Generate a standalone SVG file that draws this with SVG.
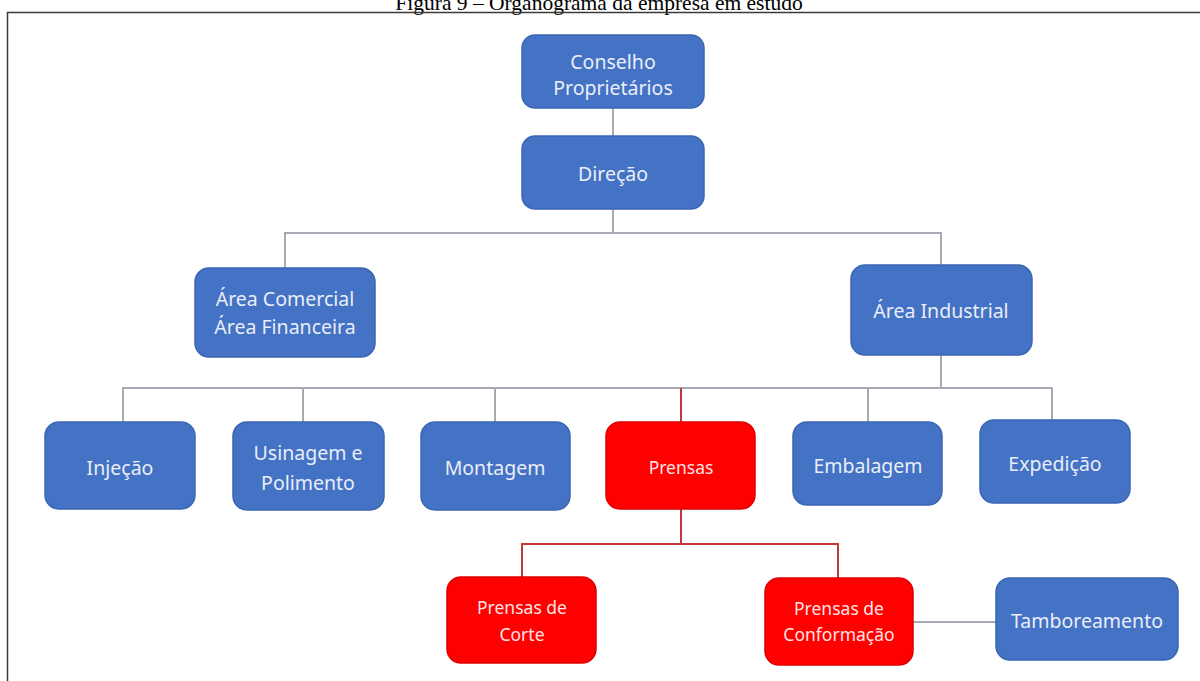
<svg xmlns="http://www.w3.org/2000/svg" width="1200" height="681" viewBox="0 0 1200 681">
  <style>
    .title { font-family: "Liberation Serif", "Times New Roman", serif; font-size: 21.5px; fill: #000; }
    .box-blue { fill: #4472c4; stroke: #3b66b4; stroke-width: 1.5; }
    .box-red { fill: #ff0000; stroke: #e00000; stroke-width: 1.5; }
    .lbl { font-family: "Noto Sans", "Open Sans", sans-serif; font-size: 19.5px; fill: #e9eef8; text-anchor: middle; dominant-baseline: central; }
    .lbl-sm { font-family: "Noto Sans", "Open Sans", sans-serif; font-size: 17.5px; fill: #fde4e4; text-anchor: middle; dominant-baseline: central; }
    .link { fill: none; stroke: #a6abb3; stroke-width: 2; }
    .link-red { fill: none; stroke: #c0393b; stroke-width: 2; }
    .frame { fill: none; stroke: #3a3a3a; stroke-width: 1.5; }
  </style>

  <rect x="0" y="0" width="1200" height="681" fill="#ffffff"/>

  <!-- caption, partly cut at the top edge -->
  <text class="title" x="599" y="10" text-anchor="middle">Figura 9 – Organograma da empresa em estudo</text>

  <!-- frame around the chart -->
  <path class="frame" d="M7.5,681 V12.5 H1200"/>

  <!-- connectors -->
  <g id="connectors">
    <path class="link" d="M613,108 V136"/>
    <path class="link" d="M613,209 V233"/>
    <path class="link" d="M285,268 V233 H941 V265"/>
    <path class="link" d="M941,355 V388"/>
    <path class="link" d="M123,422 V388 H1052 V420"/>
    <path class="link" d="M303,388 V422"/>
    <path class="link" d="M495,388 V422"/>
    <path class="link" d="M868,388 V422"/>
    <path class="link-red" d="M681,388 V422"/>
    <path class="link-red" d="M681,509 V544"/>
    <path class="link-red" d="M522,577 V544 H838 V578"/>
    <path class="link" d="M913,622 H996"/>
  </g>

  <g id="conselho">
    <rect class="box-blue" x="522" y="35" width="182" height="73" rx="13"/>
    <text class="lbl" x="613" y="61">Conselho</text>
    <text class="lbl" x="613" y="87">Proprietários</text>
  </g>

  <g id="direcao">
    <rect class="box-blue" x="522" y="136" width="182" height="73" rx="13"/>
    <text class="lbl" x="613" y="173">Direção</text>
  </g>

  <g id="area-comercial">
    <rect class="box-blue" x="195" y="268" width="180" height="89" rx="14"/>
    <text class="lbl" x="285" y="298">Área Comercial</text>
    <text class="lbl" x="285" y="326">Área Financeira</text>
  </g>

  <g id="area-industrial">
    <rect class="box-blue" x="851" y="265" width="181" height="90" rx="14"/>
    <text class="lbl" x="941" y="310">Área Industrial</text>
  </g>

  <g id="injecao">
    <rect class="box-blue" x="45" y="422" width="150" height="87" rx="14"/>
    <text class="lbl" x="120" y="467">Injeção</text>
  </g>

  <g id="usinagem">
    <rect class="box-blue" x="233" y="422" width="151" height="88" rx="14"/>
    <text class="lbl" x="308" y="452">Usinagem e</text>
    <text class="lbl" x="308" y="482">Polimento</text>
  </g>

  <g id="montagem">
    <rect class="box-blue" x="421" y="422" width="149" height="88" rx="14"/>
    <text class="lbl" x="495" y="467">Montagem</text>
  </g>

  <g id="prensas">
    <rect class="box-red" x="606" y="422" width="149" height="87" rx="14"/>
    <text class="lbl-sm" x="681" y="467">Prensas</text>
  </g>

  <g id="embalagem">
    <rect class="box-blue" x="793" y="422" width="149" height="83" rx="14"/>
    <text class="lbl" x="868" y="465">Embalagem</text>
  </g>

  <g id="expedicao">
    <rect class="box-blue" x="980" y="420" width="150" height="83" rx="14"/>
    <text class="lbl" x="1055" y="463">Expedição</text>
  </g>

  <g id="prensas-corte">
    <rect class="box-red" x="447" y="577" width="149" height="86" rx="14"/>
    <text class="lbl-sm" x="522" y="607">Prensas de</text>
    <text class="lbl-sm" x="522" y="634">Corte</text>
  </g>

  <g id="prensas-conformacao">
    <rect class="box-red" x="765" y="578" width="148" height="87" rx="14"/>
    <text class="lbl-sm" x="839" y="608">Prensas de</text>
    <text class="lbl-sm" x="839" y="634">Conformação</text>
  </g>

  <g id="tamboreamento">
    <rect class="box-blue" x="996" y="578" width="182" height="82" rx="14"/>
    <text class="lbl" x="1087" y="620">Tamboreamento</text>
  </g>
</svg>
